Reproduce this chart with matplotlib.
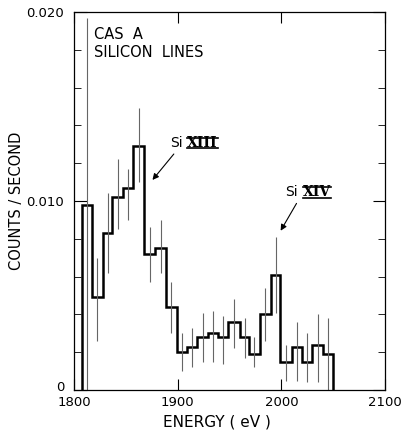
import numpy as np
import matplotlib
matplotlib.use('Agg')
import matplotlib.pyplot as plt
import matplotlib.transforms as mtransforms
from matplotlib.lines import Line2D

# Bin edges (eV) and counting rates
edges = [1808, 1817, 1828, 1837, 1847, 1857, 1868, 1878, 1889, 1899, 1909,
         1919, 1929, 1939, 1949, 1960, 1969, 1979, 1990, 1999, 2010, 2020,
         2030, 2040, 2050]
rate = [0.0098, 0.0049, 0.0083, 0.0102, 0.0107, 0.0129, 0.0072, 0.0075,
        0.0044, 0.0020, 0.0023, 0.0028, 0.0030, 0.0028, 0.0036, 0.0028,
        0.0019, 0.0040, 0.0061, 0.0015, 0.0023, 0.0015, 0.0024, 0.0019]
err_lo = [0.0000, 0.0026, 0.0062, 0.0085, 0.0090, 0.0110, 0.0057, 0.0062,
          0.0030, 0.0010, 0.0012, 0.0015, 0.0015, 0.0014, 0.0022, 0.0017,
          0.0012, 0.0026, 0.0041, 0.0005, 0.0005, 0.0004, 0.0004, 0.0000]
err_hi = [0.0197, 0.0070, 0.0104, 0.0122, 0.0117, 0.0149, 0.0086, 0.0090,
          0.0057, 0.0030, 0.0033, 0.0041, 0.0042, 0.0039, 0.0048, 0.0038,
          0.0028, 0.0054, 0.0081, 0.0024, 0.0036, 0.0030, 0.0040, 0.0038]

xticks = [1800, 1900, 2000, 2100]
yticks = [0, 0.010, 0.020]
ytick_labels = ['0', '0.010', '0.020']

fig = plt.figure(figsize=(4.03, 4.37), dpi=100)
ax = fig.add_axes([74 / 403, 1 - 390 / 437, 311 / 403, 378 / 437])

e = np.array(edges, dtype=float)
centers = (e[:-1] + e[1:]) / 2

# error bars first, histogram on top
ax.vlines(centers, err_lo, err_hi, color='#666666', lw=0.8)
ax.stairs(rate, edges, baseline=0, color='black', lw=1.8)

ax.set_xlim(1800, 2100)
ax.set_ylim(0, 0.020)
ax.set_xticks(xticks)
ax.set_yticks(yticks)
ax.set_yticklabels(ytick_labels)
ax.set_yticks(np.arange(0.002, 0.020, 0.002), minor=True)
ax.tick_params(axis='both', which='both', direction='in', top=True, right=True,
               labelsize=9.5, colors='black')
ax.tick_params(axis='y', which='major', length=9, pad=7)
ax.tick_params(axis='y', which='minor', length=5)
ax.tick_params(axis='x', which='major', length=8, pad=4)
for s in ax.spines.values():
    s.set_linewidth(0.9)

# lift the "0" a little so it clears "1800"
lbl0 = ax.get_yticklabels()[0]
lbl0.set_transform(lbl0.get_transform() +
                   mtransforms.ScaledTranslation(0, 3 / 72, fig.dpi_scale_trans))

ax.set_xlabel('ENERGY ( eV )', fontsize=11, labelpad=4)
ax.xaxis.set_label_coords(0.46, -0.065)
ax.set_ylabel('COUNTS / SECOND', fontsize=10.5, labelpad=10)
ax.yaxis.set_label_coords(-0.16, 0.5)

ax.text(1819, 0.0192, 'CAS  A\nSILICON  LINES', fontsize=10.5, va='top',
        ha='left', linespacing=1.25)

# line labels with arrows
ax.annotate('', xy=(1874, 0.0110), xytext=(1898, 0.0126),
            arrowprops=dict(arrowstyle='-|>', color='black', lw=0.8,
                            mutation_scale=9))
ax.annotate('', xy=(1998, 0.0083), xytext=(2016, 0.0100),
            arrowprops=dict(arrowstyle='-|>', color='black', lw=0.8,
                            mutation_scale=9))

labels = []
ax.text(1893, 0.01285, 'Si', fontsize=10, va='baseline')
labels.append(ax.text(1909, 0.01285, 'XIII', fontsize=10, va='baseline',
                      family='DejaVu Serif', fontweight='bold'))
ax.text(2004, 0.01025, 'Si', fontsize=10, va='baseline')
labels.append(ax.text(2021, 0.01025, 'XIV', fontsize=10, va='baseline',
                      family='DejaVu Serif', fontweight='bold'))

# bars over and under the roman numerals
fig.canvas.draw()
inv = fig.transFigure.inverted()
for t in labels:
    bb = t.get_window_extent().transformed(inv)
    for yy in (bb.y0 + 0.004, bb.y1 - 0.004):
        fig.add_artist(Line2D([bb.x0, bb.x1], [yy, yy], color='black',
                              lw=1.2, transform=fig.transFigure))

fig.savefig('out.png', dpi=100)
